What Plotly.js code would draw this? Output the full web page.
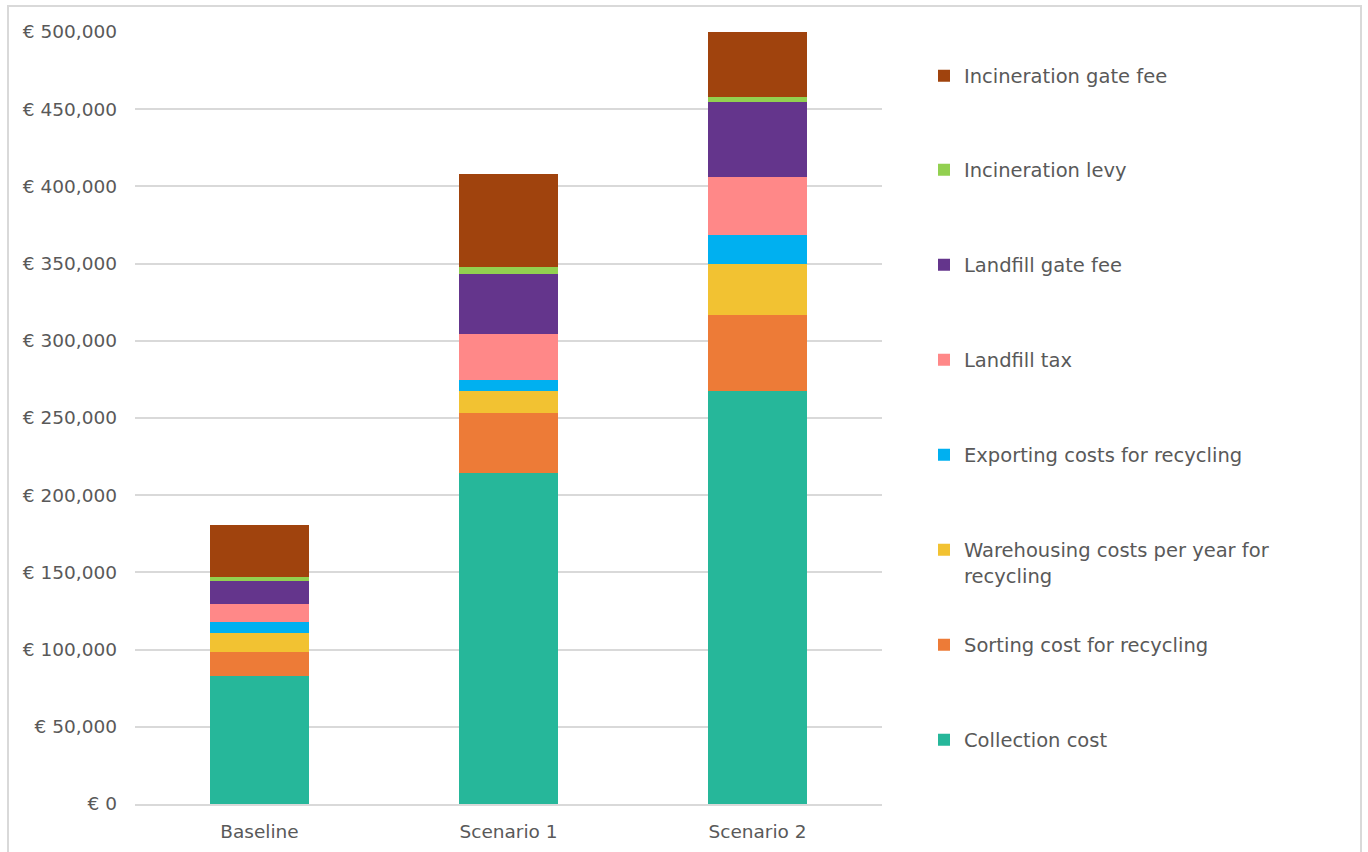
<!DOCTYPE html>
<html>
<head>
<meta charset="utf-8">
<script src="https://cdn.plot.ly/plotly-3.0.1.min.js"></script>
<style>
html, body { margin: 0; padding: 0; background: #fff; overflow: hidden; }
#frame { position: absolute; left: 7px; top: 5px; width: 1355px; height: 900px; border: 2px solid #d9d9d9; box-sizing: border-box; }
#chart { position: absolute; left: 0; top: 0; width: 1368px; height: 852px; }
</style>
</head>
<body>
<div id="frame"></div>
<div id="chart"></div>
<script>
const categories = ["Baseline", "Scenario 1", "Scenario 2"];
const seriesNames = [
  "Collection cost",
  "Sorting cost for recycling",
  "Warehousing costs per year for<br>recycling",
  "Exporting costs for recycling",
  "Landfill tax",
  "Landfill gate fee",
  "Incineration levy",
  "Incineration gate fee"
];
const collectionCost   = [83100, 214200, 267500];
const sortingCost      = [15500, 39300, 49200];
const warehousingCost  = [12100, 13900, 33000];
const exportingCost    = [7100, 7100, 18600];
const landfillTax      = [11500, 30000, 37600];
const landfillGateFee  = [15100, 38900, 48600];
const incinerationLevy = [2800, 4700, 3400];
const incinerationGateFee = [33500, 59800, 42100];
const seriesValues = [collectionCost, sortingCost, warehousingCost, exportingCost,
  landfillTax, landfillGateFee, incinerationLevy, incinerationGateFee];
const seriesColors = ["#26B79A", "#ED7B37", "#F2C232", "#00B0F0", "#FF8888", "#64358C", "#92D050", "#A0430D"];

// legend item vertical centres (px from top of page)
const legendCentres = [740, 645, 562.5, 455, 360, 265, 170, 76];

const W = 1368, H = 852;
const mL = 135, mR = W - 882, mT = 32, mB = H - 804;
const plotW = W - mL - mR, plotH = H - mT - mB;
const legendLeftPx = 924;

const tickFont = { family: "'DejaVu Sans', sans-serif", size: 18.5, color: "#595959" };
const legendFont = { family: "'DejaVu Sans', sans-serif", size: 19.5, color: "#595959" };

const traces = seriesNames.map((name, i) => ({
  type: "bar",
  name: name,
  x: categories,
  y: seriesValues[i],
  marker: { color: seriesColors[i], line: { width: 0 } },
  legend: i === 0 ? "legend" : "legend" + (i + 1),
  hoverinfo: "name+y"
}));

const layout = {
  width: W, height: H,
  margin: { l: mL, r: mR, t: mT, b: mB, pad: 0 },
  paper_bgcolor: "rgba(0,0,0,0)",
  plot_bgcolor: "rgba(0,0,0,0)",
  barmode: "stack",
  bargap: 0.6,
  font: tickFont,
  xaxis: {
    type: "category",
    showgrid: false,
    showline: true,
    linecolor: "#d9d9d9",
    linewidth: 2,
    ticks: "",
    ticklabelstandoff: 10,
    tickfont: tickFont,
    fixedrange: true
  },
  yaxis: {
    range: [0, 500000],
    dtick: 50000,
    tick0: 0,
    tickprefix: "€ ",
    tickformat: ",d",
    showgrid: true,
    gridcolor: "#d9d9d9",
    gridwidth: 2,
    zeroline: false,
    ticks: "",
    ticklabelstandoff: 17,
    tickfont: tickFont,
    fixedrange: true
  },
  showlegend: true
};

legendCentres.forEach((c, i) => {
  const key = i === 0 ? "legend" : "legend" + (i + 1);
  layout[key] = {
    x: (legendLeftPx - mL) / plotW,
    xanchor: "left",
    y: (H - mB - c) / plotH,
    yanchor: "middle",
    font: legendFont,
    bgcolor: "rgba(0,0,0,0)",
    borderwidth: 0,
    valign: "top",
    itemclick: false,
    itemdoubleclick: false
  };
});

Plotly.newPlot("chart", traces, layout, { displayModeBar: false, responsive: false });
</script>
</body>
</html>
